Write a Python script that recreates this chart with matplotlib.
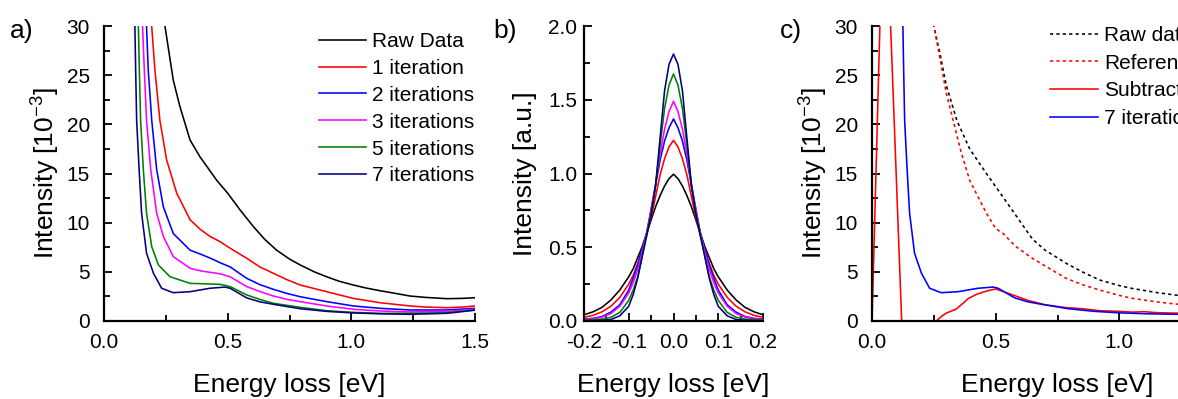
import matplotlib
matplotlib.use("Agg")
import matplotlib.pyplot as plt
from matplotlib.ticker import MultipleLocator

plt.rcParams['font.family'] = ['Liberation Sans', 'DejaVu Sans']
plt.rcParams['mathtext.fontset'] = 'custom'
plt.rcParams['mathtext.rm'] = 'Liberation Sans'
plt.rcParams['mathtext.it'] = 'Liberation Sans:italic'

# ---- panel a: background removal iterations ----
raw_x = [0.23, 0.247, 0.28, 0.307, 0.348, 0.388, 0.456, 0.50, 0.55, 0.604, 0.65, 0.698, 0.75,
         0.793, 0.85, 0.90, 0.95, 1.008, 1.06, 1.116, 1.18, 1.237, 1.30, 1.386, 1.45, 1.50]
raw_y = [33.0, 29.9, 24.5, 21.8, 18.4, 16.7, 14.3, 13.0, 11.3, 9.6, 8.3, 7.2, 6.3,
         5.7, 5.0, 4.5, 4.05, 3.66, 3.35, 3.08, 2.8, 2.54, 2.4, 2.27, 2.3, 2.37]

it1_x = [0.185, 0.193, 0.206, 0.226, 0.253, 0.294, 0.348, 0.39, 0.429, 0.469, 0.51, 0.577, 0.63,
         0.685, 0.74, 0.793, 0.85, 0.90, 1.008, 1.116, 1.237, 1.30, 1.386, 1.45, 1.50]
it1_y = [35.0, 29.9, 25.5, 20.4, 16.4, 13.0, 10.3, 9.3, 8.6, 8.07, 7.4, 6.38, 5.5,
         4.85, 4.2, 3.66, 3.3, 2.98, 2.3, 1.86, 1.53, 1.42, 1.35, 1.42, 1.53]

it2_x = [0.168, 0.172, 0.179, 0.193, 0.213, 0.24, 0.28, 0.348, 0.39, 0.429, 0.469, 0.51, 0.577,
         0.63, 0.685, 0.74, 0.793, 0.9, 1.008, 1.116, 1.237, 1.386, 1.5]
it2_y = [34.0, 29.9, 25.5, 20.4, 15.4, 11.6, 8.9, 7.2, 6.8, 6.4, 5.93, 5.5, 4.34,
         3.7, 3.22, 2.8, 2.47, 1.97, 1.53, 1.29, 1.12, 1.12, 1.29]

it3_x = [0.152, 0.156, 0.163, 0.172, 0.189, 0.213, 0.24, 0.28, 0.348, 0.39, 0.429, 0.469, 0.51,
         0.577, 0.63, 0.685, 0.74, 0.793, 0.9, 1.008, 1.116, 1.237, 1.386, 1.5]
it3_y = [34.0, 29.9, 25.5, 20.4, 15.4, 10.96, 8.6, 6.55, 5.36, 5.1, 4.95, 4.8, 4.5,
         3.5, 3.0, 2.54, 2.2, 1.97, 1.53, 1.19, 1.02, 0.92, 0.98, 1.19]

it5_x = [0.136, 0.139, 0.143, 0.148, 0.159, 0.172, 0.193, 0.22, 0.267, 0.348, 0.429, 0.469, 0.51,
         0.577, 0.63, 0.685, 0.793, 0.9, 1.008, 1.116, 1.237, 1.386, 1.5]
it5_y = [34.0, 29.9, 25.5, 20.4, 15.4, 10.96, 7.56, 5.7, 4.5, 3.83, 3.76, 3.73, 3.5,
         2.65, 2.2, 1.8, 1.39, 1.05, 0.88, 0.78, 0.78, 0.85, 1.12]

it7_x = [0.123, 0.125, 0.128, 0.132, 0.142, 0.152, 0.172, 0.2, 0.233, 0.28, 0.348, 0.429, 0.489,
         0.51, 0.577, 0.63, 0.685, 0.793, 0.9, 1.008, 1.116, 1.237, 1.386, 1.5]
it7_y = [34.0, 29.9, 25.5, 20.4, 15.4, 10.96, 6.89, 4.85, 3.33, 2.88, 2.98, 3.33, 3.45,
         3.33, 2.35, 1.95, 1.7, 1.25, 0.98, 0.82, 0.73, 0.68, 0.78, 1.1]

# ---- panel b: zero loss peaks ----
zlp_x = [-0.20, -0.18, -0.16, -0.14, -0.12, -0.10, -0.09, -0.08, -0.07, -0.06, -0.05, -0.04, -0.03,
         -0.02, -0.01, 0.0, 0.01, 0.02, 0.03, 0.04, 0.05, 0.06, 0.07, 0.08, 0.09, 0.10, 0.12,
         0.14, 0.16, 0.18, 0.20]
zlp_raw = [0.042, 0.062, 0.092, 0.142, 0.21, 0.30, 0.355, 0.43, 0.504, 0.595, 0.685, 0.775, 0.85,
           0.915, 0.965, 0.995, 0.965, 0.915, 0.85, 0.775, 0.685, 0.595, 0.504, 0.43, 0.355, 0.30,
           0.21, 0.142, 0.092, 0.062, 0.042]
zlp_1 = [0.025, 0.038, 0.062, 0.10, 0.16, 0.25, 0.31, 0.39, 0.48, 0.585, 0.70, 0.845, 0.99,
         1.10, 1.18, 1.225, 1.18, 1.10, 0.99, 0.845, 0.70, 0.585, 0.48, 0.39, 0.31, 0.25,
         0.16, 0.10, 0.062, 0.038, 0.025]
zlp_2 = [0.012, 0.018, 0.03, 0.06, 0.11, 0.21, 0.29, 0.38, 0.49, 0.595, 0.76, 0.92, 1.09,
         1.22, 1.31, 1.37, 1.31, 1.22, 1.09, 0.92, 0.76, 0.595, 0.49, 0.38, 0.29, 0.21,
         0.11, 0.06, 0.03, 0.018, 0.012]
zlp_3 = [0.01, 0.015, 0.026, 0.05, 0.10, 0.19, 0.26, 0.35, 0.47, 0.595, 0.75, 0.93, 1.13,
         1.30, 1.42, 1.49, 1.42, 1.30, 1.13, 0.93, 0.75, 0.595, 0.47, 0.35, 0.26, 0.19,
         0.10, 0.05, 0.026, 0.015, 0.01]
zlp_5 = [0.006, 0.009, 0.013, 0.025, 0.058, 0.14, 0.21, 0.30, 0.44, 0.595, 0.73, 0.92, 1.19,
         1.44, 1.60, 1.675, 1.60, 1.44, 1.19, 0.92, 0.73, 0.595, 0.44, 0.30, 0.21, 0.14,
         0.058, 0.025, 0.013, 0.009, 0.006]
zlp_7 = [0.002, 0.003, 0.005, 0.010, 0.035, 0.10, 0.18, 0.29, 0.436, 0.575, 0.72, 0.92, 1.24,
         1.56, 1.74, 1.81, 1.74, 1.56, 1.24, 0.92, 0.72, 0.575, 0.436, 0.29, 0.18, 0.10,
         0.035, 0.010, 0.005, 0.003, 0.002]

# ---- panel c: reference subtraction ----
rawc_x = [0.24, 0.25, 0.274, 0.30, 0.343, 0.395, 0.4625, 0.53, 0.58, 0.63, 0.65, 0.70, 0.785,
          0.85, 0.92, 1.0, 1.054, 1.15, 1.226, 1.3, 1.4, 1.5]
rawc_y = [31.5, 30.0, 27.3, 24.0, 20.4, 17.5, 15.0, 12.6, 10.8, 9.0, 8.3, 7.2, 5.87,
          5.0, 4.17, 3.6, 3.3, 2.9, 2.64, 2.45, 2.3, 2.37]

ref_x = [0.24, 0.25, 0.274, 0.30, 0.328, 0.36, 0.395, 0.4625, 0.50, 0.53, 0.58, 0.63, 0.65,
         0.70, 0.785, 0.85, 0.92, 1.0, 1.054, 1.15, 1.226, 1.3, 1.4, 1.5]
ref_y = [31.5, 30.0, 26.8, 23.2, 20.4, 17.2, 14.3, 10.96, 9.4, 8.9, 7.6, 6.7, 6.35,
         5.6, 4.34, 3.7, 3.15, 2.6, 2.3, 1.95, 1.73, 1.6, 1.45, 1.4]

sub_x = [0.0, 0.05, 0.12, 0.26, 0.28, 0.30, 0.315, 0.34, 0.368, 0.39, 0.422, 0.45, 0.48, 0.50,
         0.53, 0.57, 0.63, 0.70, 0.785, 0.85, 0.92, 1.0, 1.054, 1.10, 1.15, 1.226, 1.3, 1.4, 1.5]
sub_y = [0.0, 47.0, 0.0, 0.0, 0.45, 0.8, 0.95, 1.2, 1.8, 2.3, 2.7, 2.95, 3.15, 3.25,
         3.0, 2.64, 2.1, 1.65, 1.36, 1.25, 1.05, 0.98, 0.9, 0.95, 0.85, 0.8, 0.85, 0.9, 1.0]

W, H = 1178, 399
fig = plt.figure(figsize=(W / 100, H / 100), dpi=100)


def px_axes(left, top, width, height):
    return fig.add_axes([left / W, (H - top - height) / H, width / W, height / H])


def style(ax, ypad):
    for s in ['top', 'right']:
        ax.spines[s].set_visible(False)
    for s in ['left', 'bottom']:
        ax.spines[s].set_linewidth(1.6)
    ax.tick_params(which='both', direction='in', width=1.3, labelsize=15)
    ax.tick_params(which='major', length=6)
    ax.tick_params(which='minor', length=4)
    ax.tick_params(axis='x', pad=9)
    ax.tick_params(axis='y', pad=ypad)


LW = 1.15
ax1 = px_axes(104, 26, 371, 295)
ax1.plot(raw_x, raw_y, color='black', lw=LW, label='Raw Data')
ax1.plot(it1_x, it1_y, color='#ff0000', lw=LW, label='1 iteration')
ax1.plot(it2_x, it2_y, color='#0000ff', lw=LW, label='2 iterations')
ax1.plot(it3_x, it3_y, color='#ff00ff', lw=LW, label='3 iterations')
ax1.plot(it5_x, it5_y, color='#008000', lw=LW, label='5 iterations')
ax1.plot(it7_x, it7_y, color='#000080', lw=LW, label='7 iterations')
ax1.set_xlim(0, 1.5)
ax1.set_ylim(0, 30)
ax1.xaxis.set_major_locator(MultipleLocator(0.5))
ax1.xaxis.set_minor_locator(MultipleLocator(0.25))
ax1.yaxis.set_major_locator(MultipleLocator(5))
ax1.yaxis.set_minor_locator(MultipleLocator(2.5))
ax1.xaxis.set_major_formatter(lambda v, p: '%.1f' % v)
style(ax1, 10)
ax1.set_xlabel('Energy loss [eV]', fontsize=19)
ax1.set_ylabel('Intensity [10$^{-3}$]', fontsize=19)
ax1.xaxis.set_label_coords(0.5, -0.175)
ax1.yaxis.set_label_coords(-0.113, 0.5)
ax1.legend(loc='upper left', bbox_to_anchor=(0.5795, 0.98), frameon=False, fontsize=15,
           borderpad=0, borderaxespad=0, handlelength=2.25, handletextpad=0.28,
           labelspacing=0.38)

ax2 = px_axes(584, 26, 179, 295)
ax2.plot(zlp_x, zlp_raw, color='black', lw=LW)
ax2.plot(zlp_x, zlp_1, color='#ff0000', lw=LW)
ax2.plot(zlp_x, zlp_2, color='#0000ff', lw=LW)
ax2.plot(zlp_x, zlp_3, color='#ff00ff', lw=LW)
ax2.plot(zlp_x, zlp_5, color='#008000', lw=LW)
ax2.plot(zlp_x, zlp_7, color='#000080', lw=LW)
ax2.set_xlim(-0.2, 0.2)
ax2.set_ylim(0, 2.0)
ax2.xaxis.set_major_locator(MultipleLocator(0.1))
ax2.xaxis.set_minor_locator(MultipleLocator(0.05))
ax2.yaxis.set_major_locator(MultipleLocator(0.5))
ax2.yaxis.set_minor_locator(MultipleLocator(0.25))
ax2.xaxis.set_major_formatter(lambda v, p: '%.1f' % v)
ax2.yaxis.set_major_formatter(lambda v, p: '%.1f' % v)
style(ax2, 5)
ax2.set_xlabel('Energy loss [eV]', fontsize=19)
ax2.set_ylabel('Intensity [a.u.]', fontsize=19)
ax2.xaxis.set_label_coords(0.5, -0.175)
ax2.yaxis.set_label_coords(-0.26, 0.5)

ax3 = px_axes(872, 26, 371, 295)
ax3.plot(rawc_x, rawc_y, color='black', lw=LW, ls=(0, (2, 2)), label='Raw data')
ax3.plot(ref_x, ref_y, color='#ff0000', lw=LW, ls=(0, (2, 2)), label='Reference')
ax3.plot(sub_x, sub_y, color='#ff0000', lw=LW, label='Subtracted')
ax3.plot(it7_x, it7_y, color='#0000ff', lw=LW, label='7 iterations')
ax3.set_xlim(0, 1.5)
ax3.set_ylim(0, 30)
ax3.xaxis.set_major_locator(MultipleLocator(0.5))
ax3.xaxis.set_minor_locator(MultipleLocator(0.25))
ax3.yaxis.set_major_locator(MultipleLocator(5))
ax3.yaxis.set_minor_locator(MultipleLocator(2.5))
ax3.xaxis.set_major_formatter(lambda v, p: '%.1f' % v)
style(ax3, 10)
ax3.set_xlabel('Energy loss [eV]', fontsize=19)
ax3.set_ylabel('Intensity [10$^{-3}$]', fontsize=19)
ax3.xaxis.set_label_coords(0.5, -0.175)
ax3.yaxis.set_label_coords(-0.113, 0.5)
ax3.legend(loc='upper left', bbox_to_anchor=(0.48, 1.0), frameon=False, fontsize=15,
           borderpad=0, borderaxespad=0, handlelength=2.3, handletextpad=0.3,
           labelspacing=0.42)

for lab, xp in [('a)', 10), ('b)', 493), ('c)', 780)]:
    fig.text(xp / W, 1 - 19 / H, lab, fontsize=19, ha='left', va='top')

fig.savefig('out.png', dpi=100)
